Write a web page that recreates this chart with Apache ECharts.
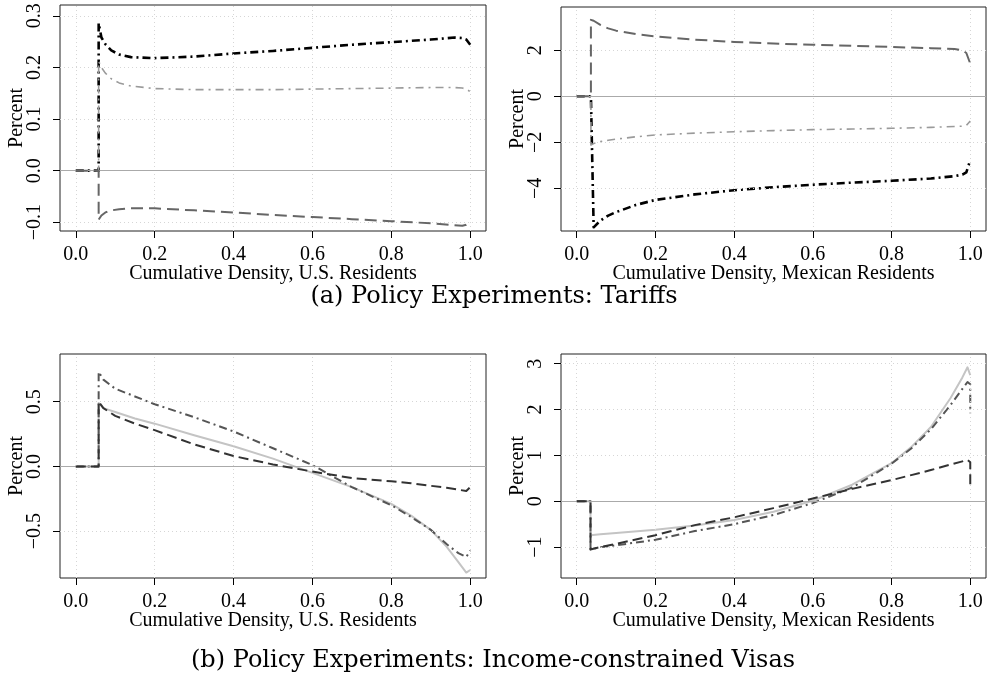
<!DOCTYPE html>
<html><head><meta charset="utf-8">
<script src="https://cdn.jsdelivr.net/npm/echarts@6/dist/echarts.min.js"></script>
<style>html,body{margin:0;padding:0;background:#fff}#c{width:987px;height:682px}</style>
</head><body><div id="c"></div>
<script>
// ---------- Data ----------
const xTicks = [0, 0.2, 0.4, 0.6, 0.8, 1.0];

// (a) Tariffs, U.S. residents
const usTarX      = [0, 0.058, 0.058, 0.065, 0.075, 0.09, 0.11, 0.14, 0.2, 0.3, 0.4, 0.5, 0.6, 0.7, 0.8, 0.9, 0.96, 0.98, 0.99, 1.0];
const usTarBlack  = [0, 0, 0.286, 0.258, 0.245, 0.233, 0.225, 0.220, 0.218, 0.221, 0.227, 0.232, 0.238, 0.244, 0.249, 0.254, 0.258, 0.257, 0.254, 0.244];
const usTarGreyDD = [0, 0, 0.212, 0.200, 0.189, 0.178, 0.170, 0.164, 0.159, 0.157, 0.157, 0.157, 0.158, 0.159, 0.160, 0.161, 0.161, 0.160, 0.158, 0.153];
const usTarDashed = [0, 0, -0.095, -0.087, -0.081, -0.077, -0.075, -0.073, -0.073, -0.077, -0.081, -0.086, -0.090, -0.094, -0.098, -0.102, -0.106, -0.107, -0.105, -0.099];
const usTarYTicks = [-0.1, 0.0, 0.1, 0.2, 0.3];

// (a) Tariffs, Mexican residents
const mxTarX      = [0, 0.036, 0.036, 0.043, 0.06, 0.08, 0.1, 0.15, 0.2, 0.3, 0.4, 0.5, 0.6, 0.7, 0.8, 0.9, 0.96, 0.98, 0.99, 1.0];
const mxTarDashed = [0, 0, 3.32, 3.28, 3.10, 2.95, 2.85, 2.70, 2.60, 2.46, 2.36, 2.29, 2.24, 2.19, 2.14, 2.09, 2.05, 2.00, 1.88, 1.42];
const mxTarGreyDD = [0, 0, -2.12, -2.05, -1.97, -1.91, -1.86, -1.76, -1.68, -1.60, -1.54, -1.49, -1.45, -1.42, -1.39, -1.35, -1.31, -1.30, -1.27, -1.07];
const mxTarBlack  = [0, 0, 0, -5.69, -5.40, -5.18, -5.03, -4.72, -4.50, -4.26, -4.08, -3.95, -3.84, -3.75, -3.67, -3.57, -3.47, -3.40, -3.30, -2.77];
const mxTarYTicks = [-4, -2, 0, 2];

// (b) Income-constrained visas, U.S. residents
const usVisX      = [0, 0.058, 0.058, 0.07, 0.1, 0.15, 0.2, 0.3, 0.4, 0.5, 0.6, 0.7, 0.8, 0.85, 0.9, 0.94, 0.97, 0.99, 0.995, 1.0];
const usVisDashDot= [0, 0, 0.73, 0.67, 0.60, 0.54, 0.48, 0.38, 0.27, 0.14, 0.01, -0.16, -0.30, -0.39, -0.49, -0.60, -0.67, -0.70, -0.69, -0.65];
const usVisSolid  = [0, 0, 0.49, 0.45, 0.42, 0.37, 0.33, 0.24, 0.155, 0.06, -0.05, -0.16, -0.29, -0.38, -0.49, -0.62, -0.74, -0.82, -0.835, -0.80];
const usVisDashed = [0, 0, 0.50, 0.45, 0.39, 0.33, 0.28, 0.17, 0.08, 0.015, -0.04, -0.09, -0.115, -0.13, -0.15, -0.165, -0.18, -0.19, -0.19, -0.16];
const usVisYTicks = [-0.5, 0.0, 0.5];

// (b) Income-constrained visas, Mexican residents
const mxVisX      = [0, 0.035, 0.035, 0.06, 0.1, 0.2, 0.3, 0.4, 0.5, 0.6, 0.7, 0.8, 0.85, 0.9, 0.95, 0.98, 0.993, 1.0, 1.0];
const mxVisSolid  = [0, 0, -0.74, -0.72, -0.69, -0.62, -0.53, -0.41, -0.23, 0.01, 0.36, 0.83, 1.18, 1.62, 2.25, 2.70, 2.92, 2.75, 2.75];
const mxVisDashDot= [0, 0, -1.05, -1.00, -0.96, -0.84, -0.65, -0.50, -0.30, -0.04, 0.30, 0.82, 1.15, 1.57, 2.10, 2.45, 2.60, 2.55, 1.92];
const mxVisDashed = [0, 0, -1.05, -1.00, -0.93, -0.74, -0.52, -0.35, -0.15, 0.06, 0.27, 0.46, 0.57, 0.68, 0.80, 0.87, 0.90, 0.85, 0.33];
const mxVisYTicks = [-1, 0, 1, 2, 3];

// ---------- Chart ----------
const SERIF = '"Liberation Serif", "Times New Roman", serif';
const MINUS = '\u2212';
const fmt1 = v => (v < -1e-9 ? MINUS : '') + Math.abs(v).toFixed(1);
const fmt0 = v => (v < -1e-9 ? MINUS : '') + Math.abs(v).toFixed(0);

const panels = [
  { grid: {left: 60, top: 5, width: 426, height: 226}, ymin: -0.117, ymax: 0.321, yTicks: usTarYTicks, fmt: fmt1,
    xname: 'Cumulative Density, U.S. Residents', x: usTarX,
    lines: [
      {y: usTarBlack, color: '#000', width: 2.6, type: [8, 4, 2, 4]},
      {y: usTarGreyDD, color: '#9a9a9a', width: 1.6, type: [8, 5, 2, 5]},
      {y: usTarDashed, color: '#666', width: 2, type: [12, 6]}
    ]},
  { grid: {left: 561, top: 7, width: 425, height: 224}, ymin: -5.85, ymax: 3.877, yTicks: mxTarYTicks, fmt: fmt0,
    xname: 'Cumulative Density, Mexican Residents', x: mxTarX,
    lines: [
      {y: mxTarBlack, color: '#000', width: 2.6, type: [8, 4, 2, 4]},
      {y: mxTarGreyDD, color: '#9a9a9a', width: 1.6, type: [8, 5, 2, 5]},
      {y: mxTarDashed, color: '#666', width: 2, type: [12, 6]}
    ]},
  { grid: {left: 60, top: 354, width: 426, height: 224}, ymin: -0.862, ymax: 0.868, yTicks: usVisYTicks, fmt: fmt1,
    xname: 'Cumulative Density, U.S. Residents', x: usVisX,
    lines: [
      {y: usVisSolid, color: '#c4c4c4', width: 2, type: 'solid'},
      {y: usVisDashDot, color: '#555', width: 2, type: [8, 4, 2, 4]},
      {y: usVisDashed, color: '#333', width: 2, type: [10, 5]}
    ]},
  { grid: {left: 561, top: 354, width: 425, height: 224}, ymin: -1.673, ymax: 3.21, yTicks: mxVisYTicks, fmt: fmt0,
    xname: 'Cumulative Density, Mexican Residents', x: mxVisX,
    lines: [
      {y: mxVisSolid, color: '#c4c4c4', width: 2, type: 'solid'},
      {y: mxVisDashDot, color: '#555', width: 2, type: [8, 4, 2, 4]},
      {y: mxVisDashed, color: '#333', width: 2, type: [10, 5]}
    ]}
];

const option = { animation: false, grid: [], xAxis: [], yAxis: [], series: [], graphic: [] };

panels.forEach((p, i) => {
  option.grid.push(Object.assign({show: true, borderColor: '#222', borderWidth: 1, backgroundColor: 'transparent', containLabel: false}, p.grid));
  option.xAxis.push({
    type: 'value', gridIndex: i, min: -0.04, max: 1.04, position: 'bottom',
    axisLine: {show: false, onZero: false},
    axisTick: {show: true, length: 7, inside: false, customValues: xTicks, lineStyle: {color: '#000', width: 1}},
    axisLabel: {show: true, customValues: xTicks, formatter: v => fmt1(v), margin: 14,
                fontFamily: SERIF, fontSize: 20, color: '#000'},
    splitLine: {show: false},
    name: p.xname, nameLocation: 'middle', nameGap: 33, nameMoveOverlap: false,
    nameTextStyle: {fontFamily: SERIF, fontSize: 20, color: '#000'}
  });
  option.yAxis.push({
    type: 'value', gridIndex: i, min: p.ymin, max: p.ymax, position: 'left',
    axisLine: {show: false, onZero: false},
    axisTick: {show: true, length: 7, inside: false, customValues: p.yTicks, lineStyle: {color: '#000', width: 1}},
    axisLabel: {show: true, customValues: p.yTicks, formatter: v => p.fmt(v), rotate: 90, margin: 15,
                fontFamily: SERIF, fontSize: 20, color: '#000'},
    splitLine: {show: false},
    name: 'Percent', nameLocation: 'middle', nameRotate: 90, nameGap: 33, nameMoveOverlap: false,
    nameTextStyle: {fontFamily: SERIF, fontSize: 20, color: '#000'}
  });
  // grid lines + zero line
  option.series.push({
    type: 'line', xAxisIndex: i, yAxisIndex: i, data: [[0, 0]], showSymbol: false, symbol: 'none',
    lineStyle: {opacity: 0}, silent: true, z: 1,
    markLine: {
      silent: true, symbol: ['none', 'none'], label: {show: false}, animation: false,
      lineStyle: {color: '#d6d6d6', type: [1, 3], width: 1},
      data: xTicks.map(v => ({xAxis: v})).concat(p.yTicks.map(v => ({yAxis: v})))
    }
  });
  option.series.push({
    type: 'line', xAxisIndex: i, yAxisIndex: i, data: [[0, 0]], showSymbol: false, symbol: 'none',
    lineStyle: {opacity: 0}, silent: true, z: 2,
    markLine: {
      silent: true, symbol: ['none', 'none'], label: {show: false}, animation: false,
      lineStyle: {color: '#aaaaaa', type: 'solid', width: 1},
      data: [{yAxis: 0}]
    }
  });
  p.lines.forEach((l, k) => {
    option.series.push({
      type: 'line', xAxisIndex: i, yAxisIndex: i, showSymbol: false, symbol: 'none', z: 3 + k,
      data: p.x.map((xv, j) => [xv, l.y[j]]),
      lineStyle: {color: l.color, width: l.width, type: l.type, cap: 'butt', join: 'round'}
    });
  });
});

const CAP = '"DejaVu Serif", "Liberation Serif", serif';
option.graphic = [
  {type: 'text', x: 494, y: 297, style: {text: '(a) Policy Experiments: Tariffs', font: '24px ' + CAP, fill: '#000',
     align: 'center', verticalAlign: 'middle', textAlign: 'center', textVerticalAlign: 'middle'}},
  {type: 'text', x: 493, y: 661, style: {text: '(b) Policy Experiments: Income-constrained Visas', font: '24px ' + CAP, fill: '#000',
     align: 'center', verticalAlign: 'middle', textAlign: 'center', textVerticalAlign: 'middle'}}
];

const chart = echarts.init(document.getElementById('c'), null, {renderer: 'canvas'});
chart.setOption(option);
</script></body></html>
